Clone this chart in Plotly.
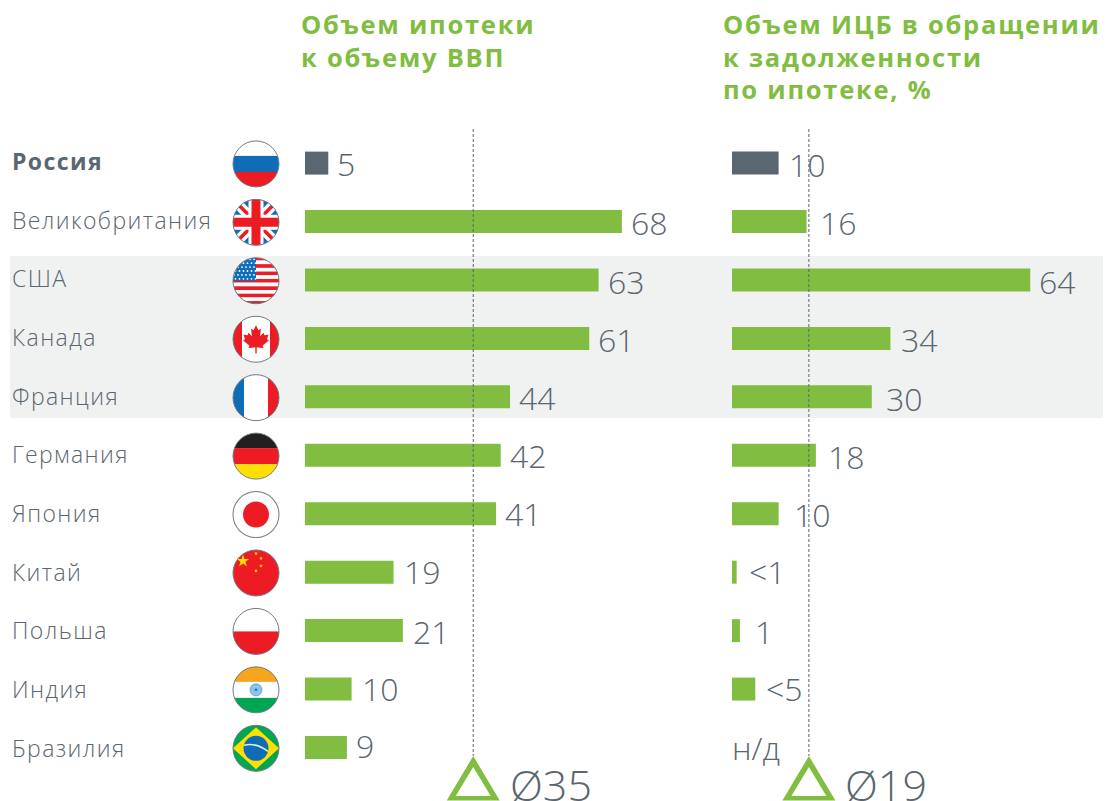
import base64, math
import plotly.graph_objects as go

W, H = 1112, 801
countries = ["Россия", "Великобритания", "США", "Канада", "Франция", "Германия",
             "Япония", "Китай", "Польша", "Индия", "Бразилия"]
flag_keys = ["ru", "uk", "us", "ca", "fr", "de", "jp", "cn", "pl", "in", "br"]
mortgage_values = [5, 68, 63, 61, 44, 42, 41, 19, 21, 10, 9]
mortgage_labels = ["5", "68", "63", "61", "44", "42", "41", "19", "21", "10", "9"]
mbs_values = [10, 16, 64, 34, 30, 18, 10, 1, 1.7, 5, None]
mbs_labels = ["10", "16", "64", "34", "30", "18", "10", "<1", "1", "<5", "н/д"]
mortgage_mean_label = "Ø35"
mbs_mean_label = "Ø19"
mortgage_mean_pos = 36.1
mbs_mean_pos = 16.5
title_left = ["Объем ипотеки", "к объему ВВП"]
title_right = ["Объем ИЦБ в обращении", "к задолженности", "по ипотеке, %"]

# style
GREEN, SLATE, BAND = "#80bd41", "#5a6670", "#f0f2f2"
FONT = "Open Sans"
PX = 4.66
ROW0, ROWH = 163.1, 58.44
LEFT0, RIGHT0 = 305, 732
right_gaps = [10, 13, 9, 11, 14, 12, 15, 12, 15, 11, 0]
left_gaps = [9, 9, 9, 9, 9, 9, 9, 10, 10, 10, 9]
left_dy = [1.5, 1.8, 2.4, 1.3, 1.5, 1, 0.5, 0, 1.2, 0.5, -1]
right_dy = [2.5, 1.8, 2.3, 1.3, 2, 1.5, 1.5, 0.5, 1.5, 0.5, 0.5]
name_dy = [0, 0, 0, 1, 1, 1, 1, 2, 1, 2, 2]

RED, BLUE = "#ed1c24", "#0f6db8"

def star(cx, cy, r, fill="#ffde00", rot=0):
    pts = []
    for k in range(10):
        a = math.radians(-90 + rot + k * 36)
        rr = r if k % 2 == 0 else r * 0.4
        pts.append(f"{cx + rr * math.cos(a):.2f},{cy + rr * math.sin(a):.2f}")
    return f'<polygon points="{" ".join(pts)}" fill="{fill}"/>'

def hstripes(colors):
    h = 48 / len(colors)
    return "".join(f'<rect x="0" y="{i*h:.2f}" width="48" height="{h+0.1:.2f}" fill="{c}"/>' for i, c in enumerate(colors))

def vstripes(colors, widths):
    s, x = "", 0
    for c, w in zip(colors, widths):
        s += f'<rect x="{x}" y="0" width="{w+0.1}" height="48" fill="{c}"/>'
        x += w
    return s

def flag_art(key):
    if key == "ru":
        return hstripes(["#ffffff", BLUE, RED])
    if key == "de":
        return hstripes(["#231f20", RED, "#ffde00"])
    if key == "fr":
        return vstripes([BLUE, "#fff", RED], [12, 24, 12])
    if key == "pl":
        return hstripes(["#ffffff", RED])
    if key == "jp":
        return '<rect width="48" height="48" fill="#fff"/><circle cx="24" cy="24" r="13" fill="%s"/>' % RED
    if key == "in":
        return hstripes(["#f7a51c", "#ffffff", "#00a651"]) + \
            '<circle cx="24" cy="24" r="6" fill="#8cc4ea" stroke="#3d8fd0" stroke-width="0.7"/><circle cx="24" cy="24" r="1.4" fill="#2a6fb0"/>'
    if key == "cn":
        return f'<rect width="48" height="48" fill="{RED}"/>' + star(11, 12, 6.5) + star(24, 4.5, 2) + star(29, 9.5, 2) + star(29, 17, 2) + star(24, 22, 2)
    if key == "br":
        return ('<rect width="48" height="48" fill="#00a651"/>'
                '<polygon points="24,3 47,24 24,45 1,24" fill="#ffde00"/>'
                f'<circle cx="24" cy="24" r="12.5" fill="{BLUE}"/>'
                '<path d="M12 21 Q24 18 36 27" stroke="#dff0d0" stroke-width="1.6" fill="none"/>')
    if key == "uk":
        return (f'<rect width="48" height="48" fill="{BLUE}"/>'
                '<path d="M0 0L48 48M48 0L0 48" stroke="#fff" stroke-width="10"/>'
                f'<path d="M0 0L48 48M48 0L0 48" stroke="{RED}" stroke-width="3.5"/>'
                '<path d="M24 0V48M0 24H48" stroke="#fff" stroke-width="15"/>'
                f'<path d="M24 0V48M0 24H48" stroke="{RED}" stroke-width="9"/>')
    if key == "us":
        s = hstripes([RED if i % 2 == 0 else "#fff" for i in range(13)])
        s += f'<rect width="24" height="24" fill="{BLUE}"/>'
        for r in range(6):
            for c in range(6):
                s += f'<circle cx="{2 + c*4 + (r % 2)*1.5:.1f}" cy="{2.5 + r*3.9:.1f}" r="0.9" fill="#fff"/>'
        return s
    if key == "ca":
        leaf = ("24,10 26.5,15 29,13.5 28,21 31.5,17.5 32.5,20 36.5,19.5 35,24 37,25 "
                "30.5,30.5 31.5,33 24.7,32 24.7,38 23.3,38 23.3,32 16.5,33 17.5,30.5 "
                "11,25 13,24 11.5,19.5 15.5,20 16.5,17.5 20,21 19,13.5 21.5,15")
        return vstripes([RED, "#fff", RED], [10, 28, 10]) + f'<polygon points="{leaf}" fill="{RED}"/>'
    return ""

def flag_uri(key):
    svg = ('<svg xmlns="http://www.w3.org/2000/svg" width="48" height="48" viewBox="0 0 48 48">'
           '<defs><clipPath id="c"><circle cx="24" cy="24" r="23"/></clipPath></defs>'
           f'<g clip-path="url(#c)">{flag_art(key)}</g>'
           '<circle cx="24" cy="24" r="23" fill="none" stroke="#6e7a84" stroke-width="1"/></svg>')
    return "data:image/svg+xml;base64," + base64.b64encode(svg.encode()).decode()

def py(p):
    return 1 - p / H

colors = [SLATE] + [GREEN] * 10
bar_w = 23 / ROWH
fig = go.Figure()
fig.add_trace(go.Bar(x=mortgage_values, y=countries, orientation="h", width=bar_w,
                     marker=dict(color=colors, line_width=0), xaxis="x", yaxis="y", hoverinfo="skip"))
fig.add_trace(go.Bar(x=mbs_values, y=countries, orientation="h", width=bar_w,
                     marker=dict(color=colors, line_width=0), xaxis="x2", yaxis="y", hoverinfo="skip"))

annotations = []
def text(t, x, y, size, color=SLATE, weight=300, xref="paper", yref="paper", xshift=0, yshift=0):
    annotations.append(dict(text=t, x=x, y=y, xref=xref, yref=yref, xanchor="left", yanchor="middle", align="left",
                            xshift=xshift, yshift=yshift, showarrow=False, borderpad=0, borderwidth=0,
                            font=dict(family=FONT, size=size, color=color, weight=weight)))

for i, c in enumerate(countries):
    text(c, 12 / W, c, 23, weight=700 if i == 0 else 300, yref="y", yshift=2 - name_dy[i])
    text(mortgage_labels[i], mortgage_values[i], c, 32, xref="x", yref="y",
         xshift=left_gaps[i], yshift=0.7 - left_dy[i])
    if mbs_values[i] is not None:
        text(mbs_labels[i], mbs_values[i], c, 32, xref="x2", yref="y",
             xshift=right_gaps[i], yshift=0.7 - right_dy[i])
    else:
        text(mbs_labels[i], 0, c, 32, xref="x2", yref="y", yshift=0.7 - right_dy[i])

for j, t in enumerate(title_left):
    text(t, 301 / W, py(24 + 32.5 * j), 25.5, GREEN, 700)
for j, t in enumerate(title_right):
    text(t, 723 / W, py(24 + 32.5 * j), 25.5, GREEN, 700)

text(mortgage_mean_label, 510 / W, py(784), 43)
text(mbs_mean_label, 845 / W, py(784), 43)

shapes = [dict(type="rect", xref="paper", yref="paper", x0=10 / W, x1=1103 / W, y0=py(418), y1=py(256),
               fillcolor=BAND, line_width=0, layer="below")]
# open triangle: outer outline minus inner outline, in pixels around the mean line's foot
TRIANGLE = "M -26.5 -44.5 L 0 0 L 26.5 -44.5 Z M -17.5 -40 L 17.5 -40 L 0 -11 Z"
for xref, pos in (("x", mortgage_mean_pos), ("x2", mbs_mean_pos)):
    shapes.append(dict(type="line", xref=xref, yref="paper", x0=pos, x1=pos, y0=py(129), y1=py(756),
                       line=dict(color=SLATE, width=1, dash="3px,2px")))
    shapes.append(dict(type="path", xref=xref, yref="paper", xsizemode="pixel", ysizemode="pixel",
                       xanchor=pos, yanchor=py(756), path=TRIANGLE,
                       fillcolor=GREEN, fillrule="evenodd", line_width=0))

images = [dict(source=flag_uri(k), xref="paper", yref="paper", x=(256 - 24) / W,
               y=py(ROW0 + ROWH * i + 0.8 - 24), sizex=48 / W, sizey=48 / H, xanchor="left", yanchor="top",
               sizing="stretch", layer="above") for i, k in enumerate(flag_keys)]

fig.update_layout(
    width=W, height=H, autosize=False, margin=dict(l=0, r=0, t=0, b=0, pad=0),
    paper_bgcolor="white", plot_bgcolor="rgba(0,0,0,0)", showlegend=False, barmode="overlay",
    xaxis=dict(domain=[LEFT0 / W, 710 / W], range=[0, (710 - LEFT0) / PX], visible=False, fixedrange=True),
    xaxis2=dict(domain=[RIGHT0 / W, 1], range=[0, (W - RIGHT0) / PX], visible=False, anchor="y", fixedrange=True),
    yaxis=dict(domain=[0, 1], type="category", categoryorder="array", categoryarray=countries,
               range=[(H - ROW0) / ROWH, -ROW0 / ROWH], visible=False, fixedrange=True),
    annotations=annotations, shapes=shapes, images=images,
)
# Plotly has no letter-spacing option; the reference's headings and row names are tracked out.
post = """
document.body.style.margin='0';document.body.style.overflow='hidden';
document.querySelectorAll('.annotation-text').forEach(function(t){
  var s=parseFloat(t.style.fontSize);
  if(s===23){t.style.letterSpacing='1.4px';}
  if(s===25.5){t.style.letterSpacing='1.75px';}
});
"""
fig.write_html("out.html", config={"displayModeBar": False}, post_script=post)
